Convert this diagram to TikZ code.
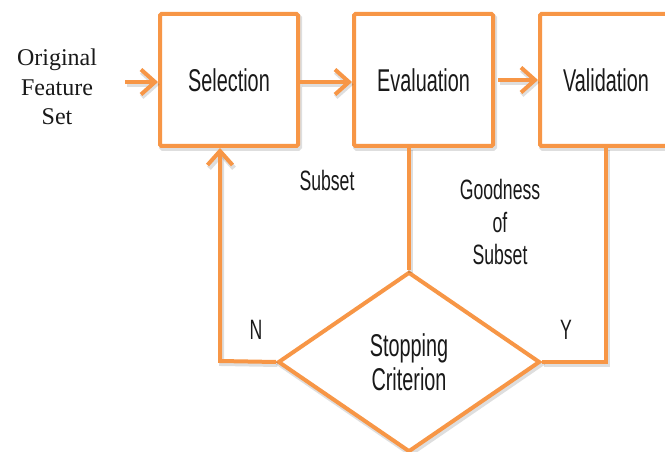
\documentclass[tikz,border=0pt]{standalone}
\usepackage{fontspec}
\setmainfont{Liberation Serif}
\newfontfamily\agency[FakeStretch=0.63]{Liberation Sans}
\usetikzlibrary{arrows.meta,shapes.geometric}
\definecolor{org}{RGB}{247,150,70}
\definecolor{ink}{RGB}{25,25,25}
\begin{document}
\begin{tikzpicture}[x=1pt,y=-1pt,
  shd/.style={preaction={draw=black,draw opacity=0.13,line width=5pt,
    transform canvas={shift={(1.5pt,-2.5pt)}}}},
  box/.style={draw=org,line width=4pt,fill=white,rounded corners=1.5pt,shd,
    minimum width=138pt,minimum height=132pt,inner sep=0pt,text=ink,
    font=\agency\fontsize{31.5}{34}\selectfont},
  con/.style={draw=org,line width=4pt,shd},
  arr/.style={con,-{Straight Barb[length=14pt,width=25pt]}},
  lbl/.style={font=\agency\fontsize{28}{32.5}\selectfont,align=center,inner sep=0pt,text=ink},
  ]
\useasboundingbox (0,0) rectangle (665,452);
\node[box] (sel) at (229,80) {Selection};
\node[box,minimum width=139pt] (eval) at (423.5,80) {Evaluation};
\node[box,minimum width=132pt] (val) at (606,80) {Validation};
\node[draw=org,line width=4pt,diamond,aspect=1.46,minimum width=262pt,minimum height=180pt,
  inner sep=0pt,fill=white,align=center,text=ink,shd,
  font=\agency\fontsize{31.5}{34}\selectfont] (dia) at (409,362) {Stopping\\Criterion};
\node[font=\fontsize{24}{29.5}\selectfont,align=center,inner sep=0pt,text=ink] (orig) at (57,87) {Original\\Feature\\Set};
\node[lbl] (subset) at (327,180) {Subset};
\node[lbl] (good) at (500,222) {Goodness\\of\\Subset};
\node[lbl] (nlab) at (256,330) {N};
\node[lbl] (ylab) at (566,330) {Y};
\coordinate (in) at (125,82);
\draw[arr] (in) -- (in -| sel.west);
\draw[arr] ([yshift=-2pt]sel.east) -- ([yshift=-2pt]eval.west);
\draw[arr] ([xshift=3pt]eval.east) -- (val.west);
\draw[con] (eval.south -| dia.north) -- (dia.north);
\coordinate (nl) at (220,361);
\draw[arr] (dia.west) -- (nl) -- (nl |- sel.south);
\draw[con] (dia.east) -| (val.south);
\end{tikzpicture}
\end{document}
